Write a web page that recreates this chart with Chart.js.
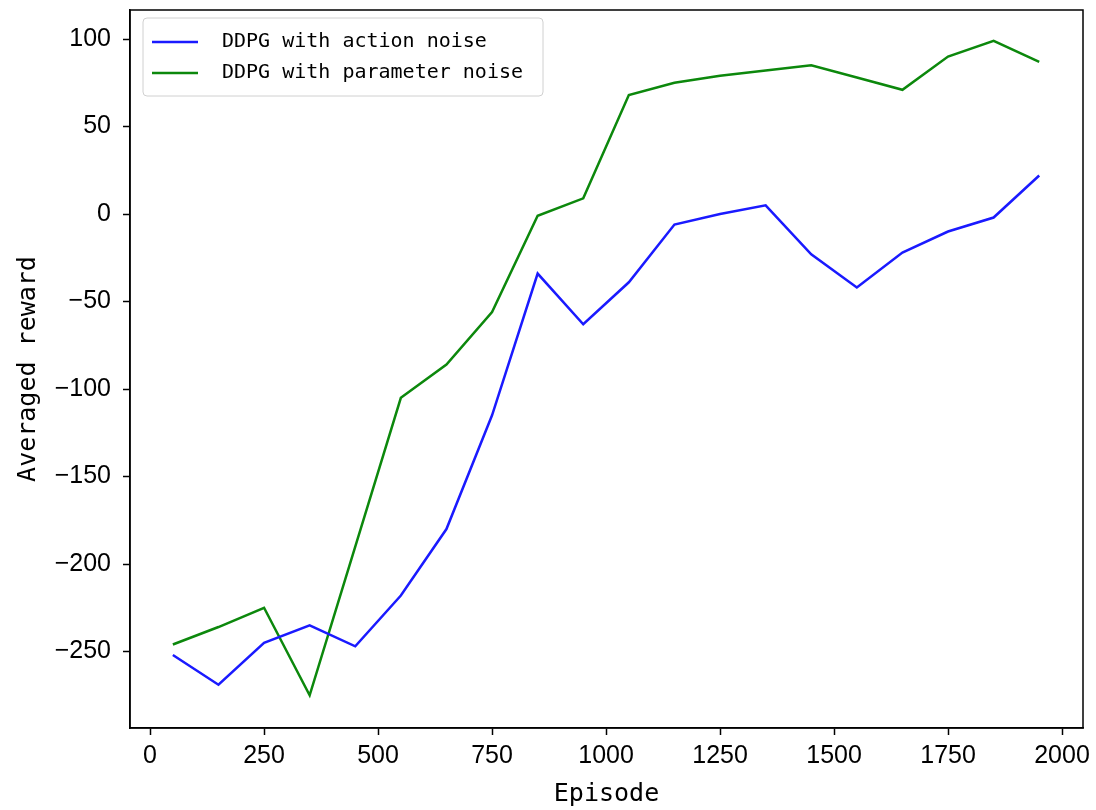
<!DOCTYPE html>
<html>
<head>
<meta charset="utf-8">
<script src="https://cdn.jsdelivr.net/npm/chart.js@4"></script>
<style>
  html, body { margin: 0; padding: 0; background: #fff; }
  #wrap { width: 1096px; height: 810px; }
</style>
</head>
<body>
<div id="wrap"><canvas id="chart" width="1096" height="810"></canvas></div>
<script>
// episodes (x) and averaged reward per run
const episodes = [50, 150, 250, 350, 450, 550, 650, 750, 850, 950,
                  1050, 1150, 1250, 1350, 1450, 1550, 1650, 1750, 1850, 1950];
const actionNoise = [-252, -269, -245, -235, -247, -218, -180, -115, -34, -63,
                     -39, -6, 0, 5, -23, -42, -22, -10, -2, 22];
const paramNoise = [-246, -236, -225, -275, -190, -105, -86, -56, -1, 9,
                    68, 75, 79, 82, 85, 78, 71, 90, 99, 87];
const xTicks = [0, 250, 500, 750, 1000, 1250, 1500, 1750, 2000];
const yTicks = [-250, -200, -150, -100, -50, 0, 50, 100];
const seriesNames = ["DDPG with action noise", "DDPG with parameter noise"];
const seriesColors = ["#1a1aff", "#0c880c"];

const toPoints = (ys) => episodes.map((x, i) => ({ x: x, y: ys[i] }));
const fmt = (v) => (v < 0 ? "\u2212" + Math.abs(v) : String(v));

// frame around the plot + legend drawn inside the axes (matplotlib style)
const framePlugin = {
    id: "frame",
    afterDraw(chart) {
        const { ctx, chartArea: a } = chart;
        ctx.save();
        ctx.strokeStyle = "#000";
        ctx.lineWidth = 1.5;
        ctx.strokeRect(a.left, a.top, a.right - a.left, a.bottom - a.top);

        // legend box
        const bx = a.left + 13, by = a.top + 8, bw = 400, bh = 78;
        ctx.fillStyle = "rgba(255,255,255,0.85)";
        ctx.strokeStyle = "#d0d0d0";
        ctx.lineWidth = 1;
        ctx.beginPath();
        ctx.roundRect(bx, by, bw, bh, 4);
        ctx.fill();
        ctx.stroke();
        ctx.font = "20px 'DejaVu Sans Mono'";
        ctx.textBaseline = "middle";
        ctx.fillStyle = "#000";
        seriesNames.forEach((name, i) => {
            const y = by + 24 + i * 31;
            ctx.strokeStyle = seriesColors[i];
            ctx.lineWidth = 2.5;
            ctx.beginPath();
            ctx.moveTo(bx + 9, y);
            ctx.lineTo(bx + 55, y);
            ctx.stroke();
            ctx.fillText(name, bx + 79, y);
        });
        ctx.restore();
    },
};

const ctx = document.getElementById("chart").getContext("2d");
const chart = new Chart(ctx, {
    type: "line",
    data: {
        datasets: [
            {
                label: seriesNames[0],
                data: toPoints(actionNoise),
                borderColor: seriesColors[0],
                borderWidth: 2.5,
                pointRadius: 0,
                tension: 0,
            },
            {
                label: seriesNames[1],
                data: toPoints(paramNoise),
                borderColor: seriesColors[1],
                borderWidth: 2.5,
                pointRadius: 0,
                tension: 0,
            },
        ],
    },
    options: {
        responsive: false,
        animation: false,
        layout: { padding: { top: 10, right: 13, left: 0, bottom: 0 } },
        plugins: {
            legend: { display: false },
            tooltip: { enabled: false },
        },
        scales: {
            x: {
                type: "linear",
                min: -44,
                max: 2046,
                afterBuildTicks: (s) => { s.ticks = xTicks.map((v) => ({ value: v })); },
                afterFit: (s) => { s.height = 82; s.paddingLeft = 0; s.paddingRight = 0; },
                grid: { drawOnChartArea: false, tickLength: 7, tickColor: "#000", tickWidth: 1.5 },
                border: { display: true, color: "#000", width: 1.5 },
                ticks: {
                    color: "#000",
                    font: { family: "'Liberation Sans'", size: 25 },
                    padding: 6,
                    maxRotation: 0,
                    callback: (v) => fmt(v),
                },
                title: {
                    display: true,
                    text: "Episode",
                    color: "#000",
                    font: { family: "'DejaVu Sans Mono'", size: 25 },
                    padding: { top: 0, bottom: 1 },
                },
            },
            y: {
                min: -293.7,
                max: 116.6,
                afterBuildTicks: (s) => { s.ticks = yTicks.map((v) => ({ value: v })); },
                afterFit: (s) => { s.width = 130; s.paddingTop = 0; s.paddingBottom = 0; },
                grid: { drawOnChartArea: false, tickLength: 7, tickColor: "#000", tickWidth: 1.5 },
                border: { display: true, color: "#000", width: 1.5 },
                ticks: {
                    color: "#000",
                    font: { family: "'Liberation Sans'", size: 25 },
                    padding: 12,
                    callback: (v) => fmt(v),
                },
                title: {
                    display: true,
                    text: "Averaged reward",
                    color: "#000",
                    font: { family: "'DejaVu Sans Mono'", size: 25 },
                    padding: { top: 13, bottom: 0 },
                },
            },
        },
    },
    plugins: [framePlugin],
});
</script>
</body>
</html>
